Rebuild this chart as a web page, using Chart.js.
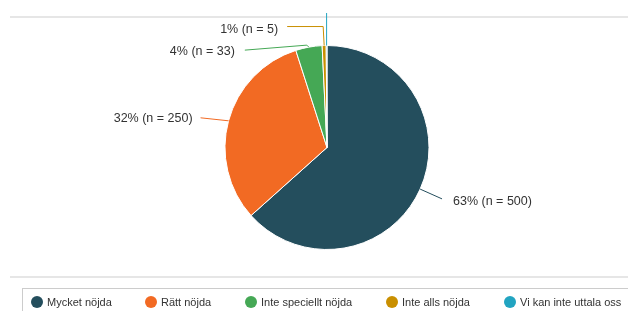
<!DOCTYPE html>
<html>
<head>
<meta charset="utf-8">
<script src="https://cdn.jsdelivr.net/npm/chart.js@4/dist/chart.umd.min.js"></script>
<style>
  html, body { margin: 0; padding: 0; background: #fff; }
  #wrap { position: relative; width: 628px; height: 311px; overflow: hidden; }
  #legend {
    position: absolute; left: 22px; top: 288px; width: 620px; height: 40px;
    border: 1px solid #ccc; box-sizing: border-box;
    font: 11px Arial, "Liberation Sans", sans-serif; color: #333;
  }
  .item { position: absolute; top: 6px; height: 14px; line-height: 14px; white-space: nowrap; }
  .dot { position: absolute; left: 0; top: 1px; width: 12px; height: 12px; border-radius: 50%; }
  .txt { position: absolute; left: 16px; top: 0; }
</style>
</head>
<body>
<div id="wrap">
  <canvas id="pie" width="628" height="311"></canvas>
  <div id="legend"></div>
</div>
<script>
// answers (clockwise from the top)
const labels = ["Mycket nöjda", "Rätt nöjda", "Inte speciellt nöjda", "Inte alls nöjda", "Vi kan inte uttala oss"];
const counts = [500, 250, 33, 5, 1];
const colors = ["#244e5d", "#f26a23", "#45a855", "#c98f00", "#22a4c1"];

const total = counts.reduce((a, b) => a + b, 0);

// thin gray rules above the chart and above the legend
const rulesPlugin = {
  id: 'rules',
  beforeDraw(chart) {
    const ctx = chart.ctx;
    ctx.save();
    ctx.strokeStyle = "#e6e6e6";
    ctx.lineWidth = 2;
    ctx.beginPath();
    ctx.moveTo(10, 17); ctx.lineTo(628, 17);
    ctx.moveTo(10, 277); ctx.lineTo(628, 277);
    ctx.stroke();
    ctx.restore();
  }
};

// leader lines + "xx% (n = yy)" labels
const labelPlugin = {
  id: 'sliceLabels',
  afterDatasetsDraw(chart) {
    const ctx = chart.ctx;
    const meta = chart.getDatasetMeta(0);
    ctx.save();
    ctx.font = "12.5px Arial, 'Liberation Sans', sans-serif";
    ctx.fillStyle = "#333";
    ctx.textBaseline = "middle";
    ctx.lineWidth = 1;

    meta.data.forEach((arc, i) => {
      const p = arc.getProps(['x', 'y', 'startAngle', 'endAngle', 'outerRadius'], true);
      const mid = (p.startAngle + p.endAngle) / 2;
      const ex = p.x + Math.cos(mid) * p.outerRadius;
      const ey = p.y + Math.sin(mid) * p.outerRadius;
      const text = Math.round(counts[i] / total * 100) + "% (n = " + counts[i] + ")";
      ctx.strokeStyle = colors[i];
      ctx.beginPath();
      ctx.moveTo(ex, ey);

      if (i === 0) {
        // radial out to the right
        const px = ex + Math.cos(mid) * 24, py = ey + Math.sin(mid) * 24;
        ctx.lineTo(px, py);
        ctx.stroke();
        ctx.textAlign = "left";
        ctx.fillText(text, px + 11, py + 3);
      } else if (i === 1) {
        const px = ex - 28, py = ey - 3;
        ctx.lineTo(px, py);
        ctx.stroke();
        ctx.textAlign = "right";
        ctx.fillText(text, px - 8, py + 1);
      } else if (i === 2) {
        ctx.lineTo(ex - 2, ey - 2);
        ctx.lineTo(ex - 64, ey + 3);
        ctx.stroke();
        ctx.textAlign = "right";
        ctx.fillText(text, ex - 74, ey + 4);
      } else if (i === 3) {
        ctx.lineTo(ex - 1, ey - 19);
        ctx.lineTo(ex - 37, ey - 19);
        ctx.stroke();
        ctx.textAlign = "right";
        ctx.fillText(text, ex - 46, ey - 16);
      } else {
        // label sits above the visible area, only its line shows
        ctx.lineTo(ex, 13);
        ctx.stroke();
      }
    });
    ctx.restore();
  }
};

new Chart(document.getElementById('pie'), {
  type: 'pie',
  data: {
    labels: labels,
    datasets: [{
      data: counts,
      backgroundColor: colors,
      borderColor: "#fff",
      borderWidth: 1
    }]
  },
  options: {
    responsive: false,
    animation: false,
    layout: { padding: { top: 45, bottom: 61, left: 150, right: 124 } },
    plugins: {
      legend: { display: false },
      tooltip: { enabled: false }
    }
  },
  plugins: [rulesPlugin, labelPlugin]
});

// legend drawn as html under the chart
const legendX = [8, 122, 222, 363, 481];
const legend = document.getElementById('legend');
labels.forEach((name, i) => {
  const item = document.createElement('div');
  item.className = 'item';
  item.style.left = legendX[i] + 'px';
  item.innerHTML = '<span class="dot" style="background:' + colors[i] + '"></span><span class="txt">' + name + '</span>';
  legend.appendChild(item);
});
</script>
</body>
</html>
